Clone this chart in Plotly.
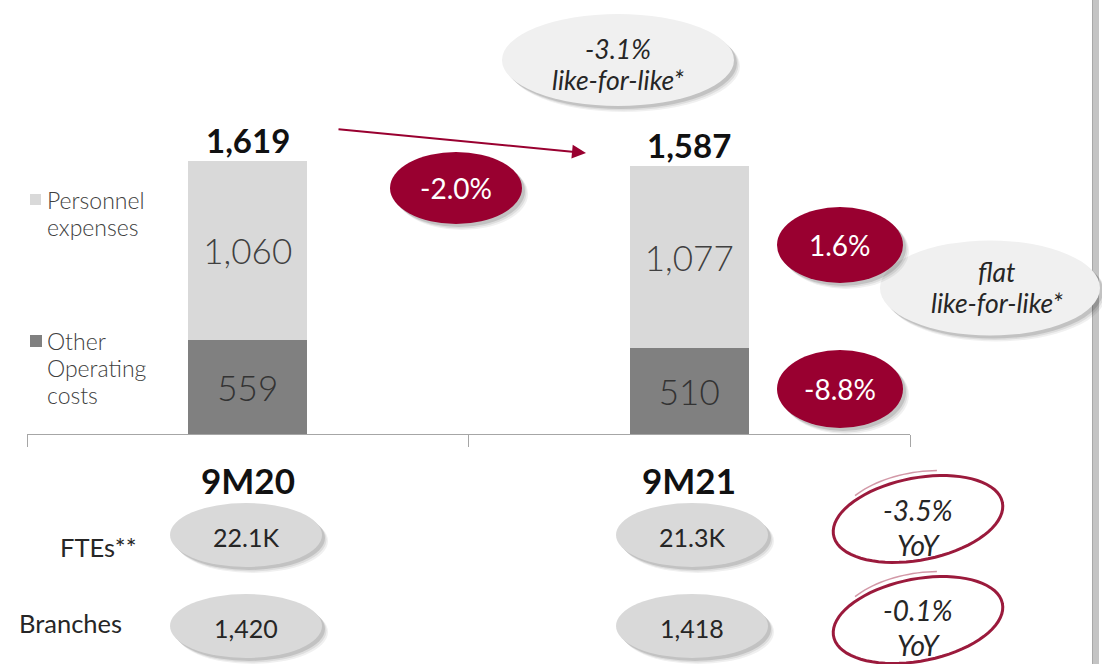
import numpy as np
import plotly.graph_objects as go

# ---------------- data ----------------
periods = ["9M20", "9M21"]
other_costs = [559, 510]
personnel = [1060, 1077]
totals = [1619, 1587]
seg_changes = ["1.6%", "-8.8%"]          # personnel, other (YoY)
total_change = "-2.0%"
lfl_total = ["-3.1%", "like-for-like*"]
lfl_personnel = ["flat", "like-for-like*"]
ftes = ["22.1K", "21.3K"]
branches = ["1,420", "1,418"]
ftes_yoy = ["-3.5%", "YoY"]
branches_yoy = ["-0.1%", "YoY"]
legend_personnel = ["Personnel", "expenses"]
legend_other = ["Other", "Operating", "costs"]

RED = "#990030"
DARK = "#262626"
FONT = "Lato"

# ---------------- helpers (pixel -> paper) ----------------
L, R_M, T, B = 27, 192, 0, 230
W, H = 1102, 664
PW, PH = W - L - R_M, H - T - B


def X(px):
    return (px - L) / PW


def Y(py):
    return (H - B - py) / PH


shapes = []
annotations = []


def ellipse(cx, cy, w, h, fill, shadow=True, line=None):
    if shadow:
        for k, op in [(6, 0.06), (4.5, 0.08), (3, 0.12)]:
            shapes.append(dict(type="circle", xref="paper", yref="paper",
                               x0=X(cx - w / 2 + k), x1=X(cx + w / 2 + k),
                               y0=Y(cy + h / 2 + k), y1=Y(cy - h / 2 + k),
                               fillcolor=f"rgba(0,0,0,{op})", line=dict(width=0)))
    shapes.append(dict(type="circle", xref="paper", yref="paper",
                       x0=X(cx - w / 2), x1=X(cx + w / 2),
                       y0=Y(cy + h / 2), y1=Y(cy - h / 2),
                       fillcolor=fill, line=line or dict(width=0)))


def text(px, py, s, size, color=DARK, bold=False, italic=False, weight=None,
         xanchor="center", align="center"):
    f = dict(family=FONT, size=size, color=color)
    if bold:
        f["weight"] = "bold"
    elif weight:
        f["weight"] = weight
    if italic:
        f["style"] = "italic"
        s = f"<i>{s}</i>"
    annotations.append(dict(xref="paper", yref="paper", x=X(px), y=Y(py), text=s,
                            showarrow=False, xanchor=xanchor, yanchor="middle",
                            align=align, font=f))


def lines(px, py_list, items, size, **kw):
    for py, s in zip(py_list, items):
        text(px, py, s, size, **kw)


def scribble(cx, cy, rx, ry, rot, t0=0, t1=2 * np.pi, n=80):
    t = np.linspace(t0, t1, n)
    a = np.deg2rad(rot)
    xs = cx + rx * np.cos(t) * np.cos(a) - ry * np.sin(t) * np.sin(a)
    ys = cy + rx * np.cos(t) * np.sin(a) + ry * np.sin(t) * np.cos(a)
    return "M" + " L".join(f"{X(x):.5f},{Y(y):.5f}" for x, y in zip(xs, ys))


# ---------------- bars ----------------
fig = go.Figure()
fig.add_trace(go.Bar(x=periods, y=other_costs, name="Other Operating costs",
                     marker=dict(color="#808080", line=dict(width=0)), width=0.27,
                     text=[f"{v:,}" for v in other_costs], textposition="inside",
                     insidetextanchor="middle", textangle=0, constraintext="none",
                     textfont=dict(family=FONT, size=35, color="#333333", weight=300),
                     showlegend=False))
fig.add_trace(go.Bar(x=periods, y=personnel, name="Personnel expenses",
                     marker=dict(color="#d9d9d9", line=dict(width=0)), width=0.27,
                     text=[f"{v:,}" for v in personnel], textposition="inside",
                     insidetextanchor="middle", textangle=0, constraintext="none",
                     textfont=dict(family=FONT, size=35, color="#404040", weight=300),
                     showlegend=False))

# totals above bars
for p, t in zip(periods, totals):
    annotations.append(dict(x=p, y=t, xref="x", yref="y", text=f"<b>{t:,}</b>",
                            showarrow=False, yanchor="middle", yshift=21,
                            font=dict(family=FONT, size=33, color="#111111")))
# category labels
for p in periods:
    annotations.append(dict(x=p, y=Y(480), xref="x", yref="paper", text=f"<b>{p}</b>",
                            showarrow=False, yanchor="middle",
                            font=dict(family=FONT, size=35, color="#111111")))

# ---------------- legend (manual) ----------------
shapes.append(dict(type="rect", xref="paper", yref="paper", x0=X(30), x1=X(41),
                   y0=Y(205), y1=Y(194), fillcolor="#d9d9d9", line=dict(width=0)))
shapes.append(dict(type="rect", xref="paper", yref="paper", x0=X(30), x1=X(42),
                   y0=Y(347), y1=Y(335), fillcolor="#808080", line=dict(width=0)))
lines(45, [200, 227], legend_personnel, 23, color="#404040", weight=300,
      xanchor="left", align="left")
lines(45, [341, 368, 395], legend_other, 23, color="#404040", weight=300,
      xanchor="left", align="left")

# ---------------- right vertical rule ----------------
shapes.append(dict(type="rect", xref="paper", yref="paper", x0=X(1092), x1=X(1099),
                   y0=Y(664), y1=Y(0), fillcolor="#c4c4c4", line=dict(width=0)))
shapes.append(dict(type="line", xref="paper", yref="paper", x0=X(1092.5), x1=X(1092.5),
                   y0=Y(664), y1=Y(0), line=dict(color="#a8a8a8", width=1)))

# ---------------- grey like-for-like bubbles ----------------
ellipse(618, 60, 232, 92, "#f0f0f0")
lines(618, [49, 80], lfl_total, 26.5, italic=True)
ellipse(990, 288, 220, 95, "#f0f0f0")
lines(997, [272, 303], lfl_personnel, 26.5, italic=True)

# ---------------- red change bubbles ----------------
ellipse(456, 188, 132, 72, RED)
text(456, 188, total_change, 28, color="white")
ellipse(840, 245, 126, 76, RED)
text(840, 245, seg_changes[0], 28, color="white")
ellipse(840, 389, 126, 78, RED)
text(840, 389, seg_changes[1], 28, color="white")

# arrow between totals
annotations.append(dict(xref="paper", yref="paper", x=X(586), y=Y(153),
                        axref="pixel", ayref="pixel", ax=-249, ay=-24, text="",
                        showarrow=True, arrowhead=2, arrowsize=1.4, arrowwidth=2,
                        arrowcolor=RED))

# ---------------- bottom KPIs ----------------
text(139, 547, "FTEs**", 25.5, xanchor="right", align="right")
text(17, 623, "Branches", 25.5, xanchor="left", align="left")
for cx, f_v, b_v in zip([246, 692], ftes, branches):
    ellipse(cx, 535, 152, 64, "#d9d9d9")
    text(cx, 537, f_v, 25)
    ellipse(cx, 626, 152, 64, "#d9d9d9")
    text(cx, 628, b_v, 25)

# hand-drawn red circles
for cy in [519, 620]:
    shapes.append(dict(type="path", xref="paper", yref="paper",
                       path=scribble(918, cy, 86, 41, -11, 0.0, 2 * np.pi + 0.5),
                       line=dict(color="#9b1a3c", width=3)))
    shapes.append(dict(type="path", xref="paper", yref="paper",
                       path=scribble(920, cy - 3, 84, 44, -9, 3.9, 5.0, n=20),
                       line=dict(color="rgba(155,26,60,0.45)", width=1.5)))
lines(918, [510, 545], ftes_yoy, 28, italic=True)
lines(918, [610, 645], branches_yoy, 28, italic=True)

# ---------------- layout ----------------
fig.update_layout(
    width=W, height=H, barmode="stack",
    margin=dict(l=L, r=R_M, t=T, b=B, pad=0),
    paper_bgcolor="white", plot_bgcolor="white",
    font=dict(family=FONT, color=DARK),
    xaxis=dict(type="category", range=[-0.5, 1.5], tickson="boundaries",
               ticks="outside", ticklen=12, tickcolor="#a6a6a6", tickwidth=1.3,
               showline=True, linecolor="#a6a6a6", linewidth=1.3,
               showticklabels=False, showgrid=False, zeroline=False, fixedrange=True),
    yaxis=dict(range=[0, 2570], visible=False, fixedrange=True),
    shapes=shapes, annotations=annotations, showlegend=False,
)

fig.write_html("out.html", config={"displayModeBar": False},
               post_script="document.body.style.margin='0';document.body.style.overflow='hidden';")
